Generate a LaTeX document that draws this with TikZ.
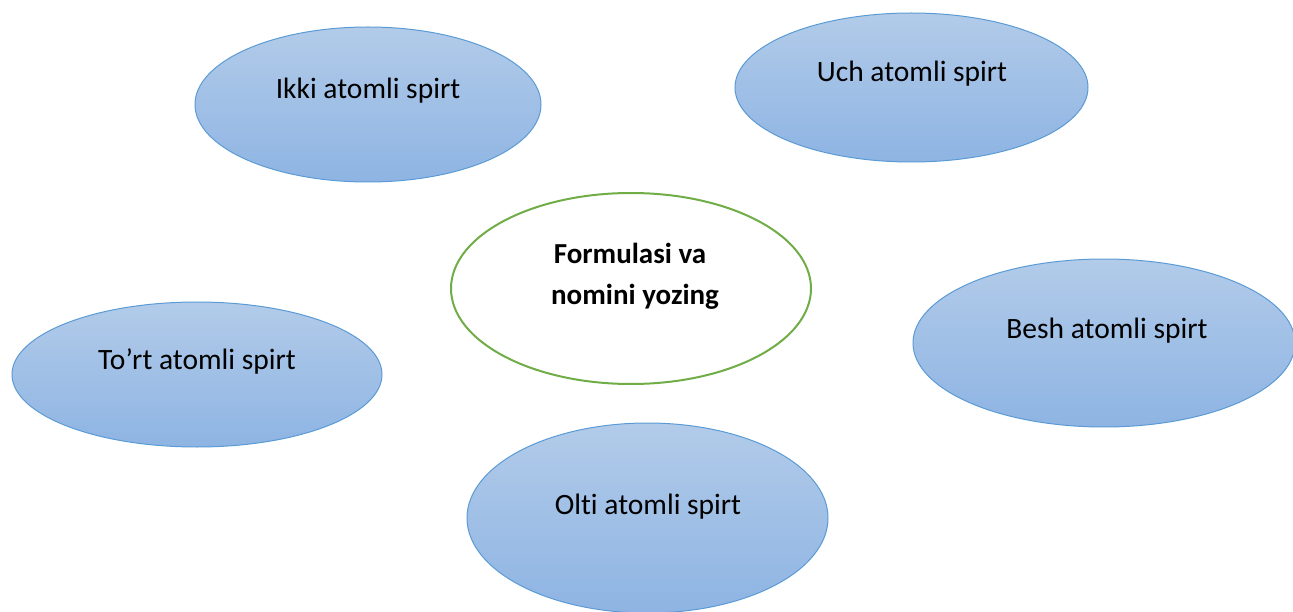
\documentclass[tikz,border=0pt]{standalone}
\usepackage{fontspec}
\setmainfont[Ligatures={NoCommon}]{Carlito}
\usetikzlibrary{shapes.geometric}
\definecolor{elltop}{HTML}{B2CBE9}
\definecolor{ellbot}{HTML}{8EB4E3}
\definecolor{elledge}{HTML}{5B9BD5}
\definecolor{centeredge}{HTML}{70AD47}
\tikzset{
  blueell/.style={ellipse, inner sep=0pt, draw=elledge, line width=1pt,
    top color=elltop, bottom color=ellbot},
  centerell/.style={ellipse, inner sep=0pt, draw=centeredge, line width=2pt, fill=white},
  lbl/.style={anchor=base, inner sep=0pt, font=\fontsize{29.5}{35}\selectfont},
  clbl/.style={inner sep=0pt, font=\bfseries\fontsize{29}{35}\selectfont}
}
\begin{document}
\begin{tikzpicture}[x=1pt,y=-1pt]
\useasboundingbox (0,0) rectangle (1293,612);
\clip (0,0) rectangle (1293,612);
\node[blueell, minimum width=346pt, minimum height=155pt] (e1) at (368,104.5) {};
\node[lbl] (t1) at (368,99) {Ikki atomli spirt};
\node[blueell, minimum width=353pt, minimum height=149pt] (e2) at (911.5,87.5) {};
\node[lbl] (t2) at (912,82) {Uch atomli spirt};
\node[centerell, minimum width=360pt, minimum height=191pt] (c) at (631,288.5) {};
\node[clbl, anchor=base] (ct1) at (630,264) {Formulasi va};
\node[clbl, anchor=base] (ct2) at (635,305) {nomini yozing};
\node[blueell, minimum width=382pt, minimum height=168pt] (e3) at (1104,343) {};
\node[lbl] (t3) at (1107,338) {Besh atomli spirt};
\node[blueell, minimum width=370pt, minimum height=145pt] (e4) at (197,374.5) {};
\node[lbl] (t4) at (197,369) {To’rt atomli spirt};
\node[blueell, minimum width=361pt, minimum height=190pt] (e5) at (647.5,518) {};
\node[lbl] (t5) at (648,514) {Olti atomli spirt};
\end{tikzpicture}
\end{document}
